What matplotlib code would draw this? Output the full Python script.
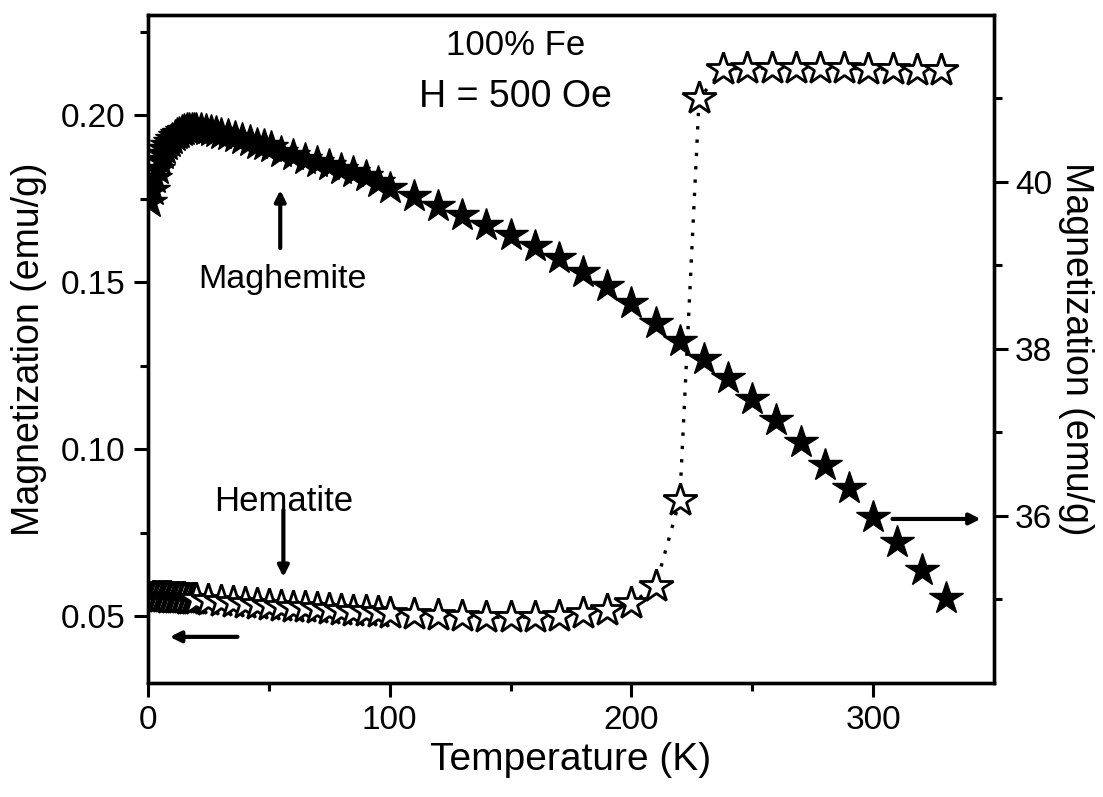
import matplotlib
matplotlib.use('Agg')
import matplotlib.pyplot as plt
from matplotlib.ticker import FixedLocator, FormatStrFormatter

plt.rcParams['font.family'] = ['Liberation Sans', 'DejaVu Sans']

# ---- Data: hematite (open stars, left axis) ----
T_hem = [1, 2, 3, 4, 5, 6, 7, 8, 9, 10, 11, 12, 13, 14, 15, 16, 17, 18, 19, 20,
         25, 30, 35, 40, 45, 50, 55, 60, 65, 70, 75, 80, 85, 90, 95, 100,
         110, 120, 130, 140, 150, 160, 170, 180, 190, 200, 210, 220, 228,
         238, 248, 258, 268, 278, 288, 298, 308, 318, 328]
M_hem = [0.0555, 0.0557, 0.0558, 0.0558, 0.0558, 0.0557, 0.0557, 0.0556, 0.0556, 0.0555,
         0.0555, 0.0554, 0.0554, 0.0553, 0.0553, 0.0552, 0.0552, 0.0551, 0.0551, 0.0550,
         0.0548, 0.0545, 0.0542, 0.0540, 0.0537, 0.0534, 0.0531, 0.0528, 0.0526, 0.0523,
         0.0521, 0.0518, 0.0516, 0.0514, 0.0512, 0.0510,
         0.0505, 0.0502, 0.0499, 0.0497, 0.0496, 0.0497, 0.0500, 0.0508, 0.0518, 0.0538,
         0.0590, 0.0848, 0.2050,
         0.2138, 0.2141, 0.2141, 0.2141, 0.2141, 0.2141, 0.2138, 0.2138, 0.2135, 0.2135]

# ---- Data: maghemite (filled stars, right axis) ----
T_mag = [1, 2, 3, 4, 5, 6, 7, 8, 9, 10, 11, 12, 13, 14, 15, 16, 17, 18, 19, 20,
         22, 24, 26, 28, 30, 33, 36, 39, 42, 45, 48, 51, 55, 60, 65, 70, 75, 80, 85, 90, 95,
         100, 110, 120, 130, 140, 150, 160, 170, 180, 190, 200, 210, 220, 230,
         240, 250, 260, 270, 280, 290, 300, 310, 320, 330]
M_mag = [39.76, 39.90, 40.05, 40.16, 40.26, 40.33, 40.39, 40.44, 40.48, 40.52,
         40.55, 40.57, 40.59, 40.61, 40.62, 40.63, 40.64, 40.64, 40.64, 40.64,
         40.63, 40.62, 40.61, 40.60, 40.58, 40.56, 40.54, 40.52, 40.49, 40.46,
         40.44, 40.42, 40.36, 40.32, 40.28, 40.24, 40.20, 40.16, 40.12, 40.07, 40.00,
         39.93, 39.83, 39.71, 39.60, 39.49, 39.37, 39.23, 39.09, 38.92, 38.75,
         38.55, 38.31, 38.10, 37.88, 37.65, 37.40, 37.15, 36.89, 36.61, 36.34,
         35.99, 35.69, 35.35, 35.02]

x_major = [0, 100, 200, 300]
x_minor = [50, 150, 250]
yl_major = [0.05, 0.10, 0.15, 0.20]
yl_minor = [0.075, 0.125, 0.175, 0.225]
yr_major = [36, 38, 40]
yr_minor = [35, 37, 39, 41]

fig = plt.figure(figsize=(11.03, 7.97), dpi=100)
ax = fig.add_axes([0.1342, 0.1431, 0.7670, 0.8381])
ax2 = ax.twinx()

ax.plot(T_hem, M_hem, linestyle=(0, (1, 3.0)), lw=2.4, color='k',
        marker='*', ms=25, mfc='white', mec='k', mew=2.0, zorder=3)
ax2.plot(T_mag, M_mag, linestyle='none', marker='*', ms=25, color='k', zorder=3)

ax.set_xlim(0, 350)
ax.set_ylim(0.03, 0.23)
ax2.set_ylim(34, 42)

ax.xaxis.set_major_locator(FixedLocator(x_major))
ax.xaxis.set_minor_locator(FixedLocator(x_minor))
ax.yaxis.set_major_locator(FixedLocator(yl_major))
ax.yaxis.set_minor_locator(FixedLocator(yl_minor))
ax.yaxis.set_major_formatter(FormatStrFormatter('%.2f'))
ax2.yaxis.set_major_locator(FixedLocator(yr_major))
ax2.yaxis.set_minor_locator(FixedLocator(yr_minor))

for a in (ax, ax2):
    for s in a.spines.values():
        s.set_linewidth(2.4)
ax.tick_params(axis='both', which='major', direction='out', length=10, width=2.2,
               labelsize=24, top=False, right=False, pad=6)
ax.tick_params(axis='both', which='minor', direction='out', length=5.5, width=2.2,
               top=False, right=False)
ax2.tick_params(axis='y', which='major', direction='out', length=10, width=2.2,
                labelsize=24, pad=5)
ax2.tick_params(axis='y', which='minor', direction='out', length=5.5, width=2.2)

ax.set_xlabel('Temperature (K)', fontsize=28, labelpad=4)
ax.set_ylabel('Magnetization (emu/g)', fontsize=27, labelpad=10)
ax2.set_ylabel('Magnetization (emu/g)', fontsize=27, rotation=270, labelpad=30)

# annotations
ax.text(152, 0.221, '100% Fe', fontsize=25, ha='center', va='center')
ax.text(152, 0.2055, 'H = 500 Oe', fontsize=27, ha='center', va='center')
ax.text(55.5, 0.1507, 'Maghemite', fontsize=24.5, ha='center', va='center')
ax.text(56, 0.0842, 'Hematite', fontsize=25, ha='center', va='center')

ap = dict(arrowstyle='-|>', lw=3, color='k', mutation_scale=16, shrinkA=0, shrinkB=0)
ax.annotate('', xy=(54.7, 0.1776), xytext=(54.7, 0.1602), arrowprops=ap)
ax.annotate('', xy=(56, 0.0617), xytext=(56, 0.0818), arrowprops=ap)
ax.annotate('', xy=(9, 0.0438), xytext=(37, 0.0438), arrowprops=ap)
ax.annotate('', xy=(344.5, 0.0791), xytext=(308, 0.0791), arrowprops=ap)

fig.savefig('out.png', dpi=100)
